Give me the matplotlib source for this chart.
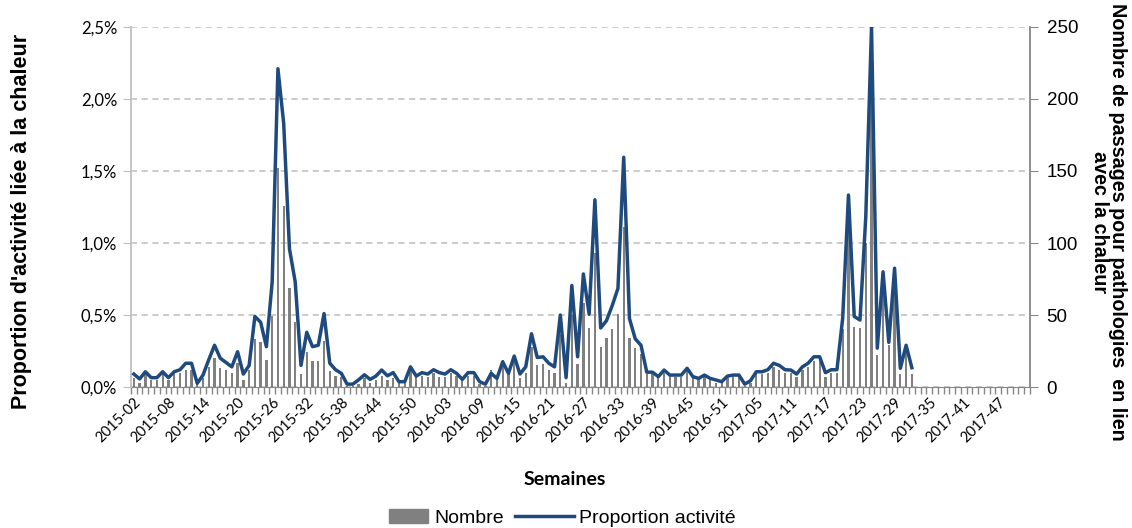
import matplotlib
matplotlib.use('Agg')
import matplotlib.pyplot as plt
from matplotlib.ticker import FuncFormatter, FixedLocator
from matplotlib.patches import Patch, Rectangle
from matplotlib.lines import Line2D
from matplotlib.legend_handler import HandlerPatch
import numpy as np

# weeks 2015-02 .. 2017-52 (2015 has 53 weeks)
weeks = ([f'2015-{w:02d}' for w in range(2, 54)]
         + [f'2016-{w:02d}' for w in range(1, 53)]
         + [f'2017-{w:02d}' for w in range(1, 53)])

# nombre de passages (right axis), up to 2017-32 then empty weeks
nombre = [6, 3, 9, 5, 5, 9, 5, 9, 10, 12, 12, 2, 6, 14, 20, 13, 12, 10, 17, 5,
          12, 33, 31, 19, 49, 152, 126, 69, 45, 9, 24, 18, 18, 32, 11, 8, 7, 1, 1, 2,
          6, 3, 5, 8, 5, 6, 3, 3, 13, 7, 8, 7, 10, 7, 7, 10, 8, 5, 8, 8,
          2, 1, 12, 6, 19, 9, 18, 6, 10, 28, 15, 16, 12, 10, 37, 3, 50, 16, 58, 41,
          93, 28, 34, 40, 51, 111, 34, 27, 23, 9, 9, 6, 10, 8, 7, 7, 12, 7, 6, 7,
          5, 3, 3, 7, 7, 7, 1, 3, 9, 9, 10, 14, 12, 10, 10, 7, 12, 14, 18, 18,
          7, 10, 10, 40, 111, 42, 41, 100, 210, 22, 66, 29, 68, 9, 26, 9]
nombre = nombre + [0] * (len(weeks) - len(nombre))

# proportion d'activite (%), left axis
proportion = [0.09, 0.056, 0.106, 0.065, 0.065, 0.106, 0.065, 0.106, 0.12, 0.165,
              0.165, 0.026, 0.083, 0.19, 0.29, 0.20, 0.17, 0.14, 0.245, 0.09,
              0.15, 0.49, 0.45, 0.28, 0.73, 2.21, 1.83, 0.96, 0.73, 0.15,
              0.38, 0.28, 0.29, 0.51, 0.165, 0.12, 0.095, 0.02, 0.02, 0.05,
              0.085, 0.053, 0.076, 0.118, 0.078, 0.10, 0.037, 0.037, 0.14, 0.076,
              0.10, 0.09, 0.12, 0.10, 0.09, 0.12, 0.095, 0.053, 0.10, 0.10,
              0.037, 0.02, 0.095, 0.06, 0.175, 0.095, 0.215, 0.09, 0.14, 0.37,
              0.205, 0.21, 0.165, 0.14, 0.50, 0.065, 0.705, 0.21, 0.785, 0.505,
              1.30, 0.41, 0.46, 0.565, 0.685, 1.595, 0.475, 0.335, 0.29, 0.103,
              0.103, 0.072, 0.118, 0.083, 0.083, 0.083, 0.13, 0.072, 0.06, 0.083,
              0.06, 0.049, 0.037, 0.076, 0.083, 0.083, 0.02, 0.044, 0.106, 0.106,
              0.12, 0.165, 0.15, 0.12, 0.118, 0.09, 0.14, 0.165, 0.21, 0.21,
              0.10, 0.12, 0.12, 0.48, 1.333, 0.49, 0.465, 1.18, 2.50, 0.27,
              0.80, 0.31, 0.825, 0.13, 0.29, 0.134]

blue = '#1f4a7e'
grey = '#808080'

fig = plt.figure(figsize=(11.32, 5.28), dpi=100)
ax_r = fig.add_axes([0.1157, 0.267, 0.9099 - 0.1157, 0.9489 - 0.267])
ax_l = ax_r.twinx()
# put the left (percent) axis on the left and keep line above bars
ax_l.yaxis.tick_left()
ax_l.yaxis.set_label_position('left')
ax_r.yaxis.tick_right()
ax_l.set_zorder(ax_r.get_zorder() + 1)
ax_l.patch.set_visible(False)

x = np.arange(len(weeks))
ax_r.bar(x, nombre, width=0.4, color=grey, zorder=2)
ax_l.plot(np.arange(len(proportion)), proportion, color=blue, lw=2.5,
          solid_joinstyle='round', zorder=3)

ax_r.set_ylim(0, 250)
ax_r.set_yticks(range(0, 251, 50))
ax_l.set_ylim(0, 2.5)
ax_l.set_yticks(np.arange(0, 2.51, 0.5))
ax_l.yaxis.set_major_formatter(FuncFormatter(lambda v, p: f'{v:.1f}%'.replace('.', ',')))
ax_r.set_xlim(-0.5, len(weeks) - 0.5)

ax_r.grid(axis='y', color='#bdbdbd', ls=(0, (4, 3)), lw=1.1, zorder=0)
ax_r.set_axisbelow(True)

# x ticks: small marks between categories, labels every 6 weeks
ax_r.xaxis.set_minor_locator(FixedLocator(np.arange(-0.5, len(weeks), 1)))
ax_r.set_xticks(x[::6])
ax_r.set_xticklabels(weeks[::6], rotation=45, ha='right', rotation_mode='anchor',
                     fontsize=10.5, family='Lato')
ax_r.tick_params(axis='x', which='major', length=0, pad=6)
ax_r.tick_params(axis='x', which='minor', length=5, color='#868686', width=1)
ax_l.tick_params(axis='x', length=0)

for a in (ax_r, ax_l):
    for s in a.spines.values():
        s.set_visible(False)
ax_r.spines['bottom'].set_visible(True)
ax_r.spines['bottom'].set_color('#868686')
ax_r.spines['right'].set_visible(True)
ax_r.spines['right'].set_color('#868686')
ax_r.spines['right'].set_linewidth(1.3)
ax_l.spines['left'].set_visible(True)
ax_l.spines['left'].set_color('#c0c0c0')
ax_l.spines['left'].set_linewidth(1.3)

ax_r.tick_params(axis='y', length=6, color='#868686', labelsize=13.5, pad=6)
for t in ax_r.get_yticklabels():
    t.set_family('Liberation Sans')
ax_l.tick_params(axis='y', length=6, color='#c0c0c0', labelsize=12, pad=4)
for t in ax_l.get_yticklabels():
    t.set_family('Lato')

fig.text(0.019, 0.581, "Proportion d'activité liée à la chaleur", rotation=90,
         ha='center', va='center', fontsize=15.5, fontweight='bold', family='Liberation Sans')
fig.text(0.979, 0.58, 'Nombre de passages pour pathologies  en lien\navec la chaleur',
         rotation=270, ha='center', va='center', ma='center', fontsize=14.2,
         fontweight='bold', family='Liberation Sans', linespacing=0.95)
fig.text(0.499, 0.091, 'Semaines', ha='center', va='center', fontsize=14,
         fontweight='bold', family='Lato')


def narrow_patch(legend, orig_handle, xdescent, ydescent, width, height, fontsize):
    return Rectangle((-xdescent + 0.32 * width, -ydescent), 0.68 * width, height)


handles = [Patch(color=grey), Line2D([], [], color=blue, lw=2.5)]
fig.legend(handles, ['Nombre', 'Proportion activité'], loc='center',
           bbox_to_anchor=(0.4885, 0.019), ncol=2, frameon=False,
           prop={'family': 'Liberation Sans', 'size': 14},
           handlelength=3.0, handleheight=0.7, columnspacing=0.6, handletextpad=0.3,
           handler_map={Patch: HandlerPatch(patch_func=narrow_patch)})

fig.savefig('out.png', dpi=100)
